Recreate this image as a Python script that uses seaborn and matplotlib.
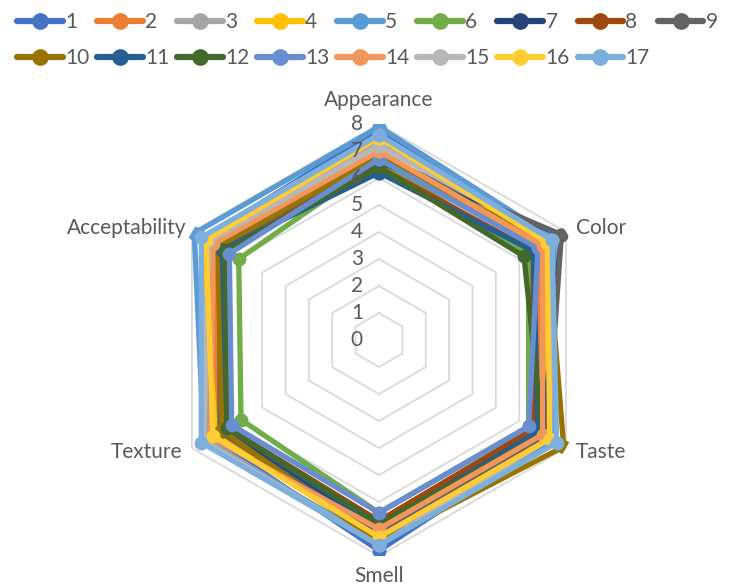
import numpy as np
import pandas as pd
import matplotlib
matplotlib.use("Agg")
import matplotlib.pyplot as plt
import seaborn as sns
from matplotlib.lines import Line2D

categories = ["Appearance", "Color", "Taste", "Smell", "Texture", "Acceptability"]
series_names = [str(i) for i in range(1, 18)]

s1 = [7.8, 7.2, 7.3, 7.8, 7.2, 7.5]
s2 = [7.0, 6.8, 6.8, 6.8, 7.0, 7.0]
s3 = [7.3, 7.4, 7.4, 7.6, 7.4, 7.4]
s4 = [7.6, 7.1, 7.2, 7.4, 7.0, 7.5]
s5 = [7.9, 7.5, 7.4, 7.5, 7.5, 7.9]
s6 = [6.6, 6.4, 6.4, 6.4, 5.9, 6.0]
s7 = [6.6, 7.8, 7.0, 7.1, 6.6, 6.8]
s8 = [6.4, 6.6, 6.6, 6.7, 6.5, 6.9]
s9 = [6.8, 7.8, 7.2, 7.2, 6.8, 6.8]
s10 = [6.8, 7.2, 7.9, 7.5, 6.7, 6.9]
s11 = [6.2, 6.6, 6.8, 6.9, 6.5, 6.7]
s12 = [6.4, 6.2, 7.0, 6.8, 6.5, 6.6]
s13 = [6.7, 6.8, 6.4, 6.4, 6.3, 6.4]
s14 = [7.0, 7.0, 7.0, 7.0, 7.2, 7.1]
s15 = [7.2, 7.4, 7.3, 7.6, 7.5, 7.3]
s16 = [7.5, 7.2, 7.3, 7.3, 7.1, 7.4]
s17 = [7.6, 7.4, 7.6, 7.6, 7.6, 7.6]
all_series = [s1, s2, s3, s4, s5, s6, s7, s8, s9, s10, s11, s12, s13, s14, s15, s16, s17]

colors = ["#4472C4", "#ED7D31", "#A5A5A5", "#FFC000", "#5B9BD5", "#70AD47",
          "#264478", "#9E480E", "#636363", "#997300", "#255E91", "#43682B",
          "#698ED0", "#F1975A", "#B7B7B7", "#FFCD33", "#7CAFDD"]

sns.set_theme(style="white")
plt.rcParams["font.family"] = ["Lato", "DejaVu Sans"]
text_color = "#595959"

n = len(categories)
angles = np.linspace(0, 2 * np.pi, n, endpoint=False)
angles_closed = np.append(angles, angles[0])

fig = plt.figure(figsize=(7.44, 5.87), dpi=100)
ax = fig.add_axes([0.2191, 0.0528, 0.5806, 0.7359], polar=True)
ax.set_theta_offset(np.pi / 2)
ax.set_theta_direction(-1)
ax.set_ylim(0, 8)
ax.grid(False)
ax.spines["polar"].set_visible(False)
ax.set_xticks([])
ax.set_yticks([])

# hexagonal gridlines
for lvl in range(1, 9):
    ax.plot(angles_closed, [lvl] * (n + 1), color="#D9D9D9", lw=1.3, zorder=0)

for name, vals, c in zip(series_names, all_series, colors):
    df = pd.DataFrame({"theta": angles_closed, "value": vals + vals[:1]})
    sns.lineplot(data=df, x="theta", y="value", sort=False, ax=ax, color=c,
                 lw=3.8, marker="o", markersize=10, markeredgewidth=0,
                 estimator=None, legend=False)
ax.set_xlabel("")
ax.set_ylabel("")
ax.set_ylim(0, 8)

# radial tick labels
for v in range(0, 9):
    ax.annotate(str(v), xy=(0, v), xytext=(-16, 0), textcoords="offset pixels",
                ha="right", va="center", fontsize=15, color=text_color)

# category labels
label_pos = [(0, 24, "center", "center"), (10, 4, "left", "center"),
             (10, -4, "left", "center"), (0, -20, "center", "center"),
             (-10, -4, "right", "center"), (-6, 4, "right", "center")]
for ang, cat, (dx, dy, ha, va) in zip(angles, categories, label_pos):
    ax.annotate(cat, xy=(ang, 8), xytext=(dx, dy), textcoords="offset pixels",
                ha=ha, va=va, fontsize=15, color=text_color, annotation_clip=False)

# legend laid out row by row (matplotlib fills columns first)
handles = [Line2D([0], [0], color=c, lw=4.5, marker="o", markersize=11) for c in colors]
order = []
for j in range(9):
    order.append(j)
    if j + 9 < 17:
        order.append(j + 9)
leg = fig.legend([handles[i] for i in order], [series_names[i] for i in order],
                 loc="upper left", bbox_to_anchor=(0.006, 1.0),
                 ncol=9, frameon=False, fontsize=15, handlelength=2.2,
                 handletextpad=0.1, columnspacing=0.38, labelspacing=0.75,
                 borderaxespad=0.2)
for t in leg.get_texts():
    t.set_color(text_color)

fig.savefig("out.png", dpi=100)
